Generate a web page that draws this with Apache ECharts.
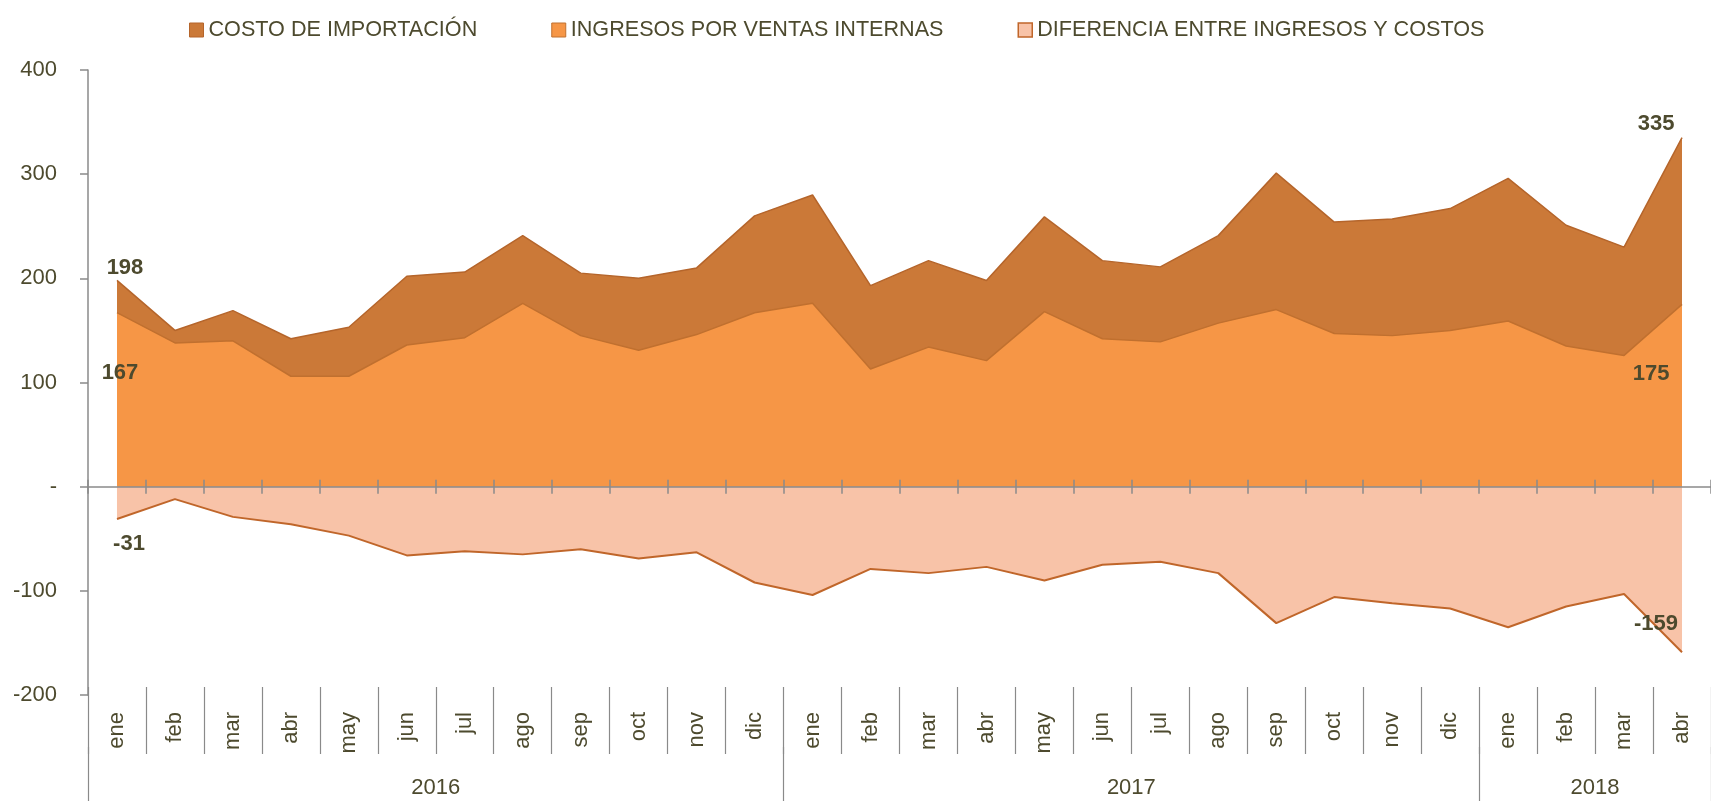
<!DOCTYPE html>
<html>
<head>
<meta charset="utf-8">
<title>Costo de importación e ingresos</title>
<script src="https://cdn.jsdelivr.net/npm/echarts/dist/echarts.min.js"></script>
<style>
  html, body { margin: 0; padding: 0; background: #fff; }
  #chart { width: 1711px; height: 801px; }
</style>
</head>
<body>
<div id="chart"></div>
<script>
const months = ['ene', 'feb', 'mar', 'abr', 'may', 'jun', 'jul', 'ago', 'sep', 'oct', 'nov', 'dic',
  'ene', 'feb', 'mar', 'abr', 'may', 'jun', 'jul', 'ago', 'sep', 'oct', 'nov', 'dic',
  'ene', 'feb', 'mar', 'abr']
const years = ['2016', '2017', '2018']
const monthsPerYear = [12, 12, 4]

const costo = [198, 150, 169, 142, 153, 202, 206, 241, 205, 200, 210, 260,
  280, 193, 217, 198, 259, 217, 211, 241, 301, 254, 257, 267,
  296, 251, 230, 335]
const ingresos = [167, 138, 140, 106, 106, 136, 143, 176, 145, 131, 146, 167,
  176, 113, 134, 121, 168, 142, 139, 157, 170, 147, 145, 150,
  159, 135, 126, 175]
const diferencia = [-31, -12, -29, -36, -47, -66, -62, -65, -60, -69, -63, -92,
  -104, -79, -83, -77, -90, -75, -72, -83, -131, -106, -112, -117,
  -135, -115, -103, -159]

const seriesNames = ['COSTO DE IMPORTACIÓN', 'INGRESOS POR VENTAS INTERNAS', 'DIFERENCIA ENTRE INGRESOS Y COSTOS']

const textColor = '#4d4a2e'
const axisColor = '#8a8a8a'
const font = "'Liberation Sans', Arial, sans-serif"

// year boundaries and label positions on a 0..n scale
const yearEdges = [0]
monthsPerYear.forEach(n => yearEdges.push(yearEdges[yearEdges.length - 1] + n))
const yearMids = years.map((y, i) => (yearEdges[i] + yearEdges[i + 1]) / 2)

// labels only on first and last point
function withEndLabels(values, first, last) {
  return values.map((v, i) => {
    if (i === 0) return { value: v, label: Object.assign({ show: true }, first) }
    if (i === values.length - 1) return { value: v, label: Object.assign({ show: true }, last) }
    return v
  })
}

const labelText = {
  color: textColor,
  fontFamily: font,
  fontSize: 22,
  fontWeight: 'bold'
}

const chart = echarts.init(document.getElementById('chart'))
chart.setOption({
  animation: false,
  textStyle: { fontFamily: font },
  legend: {
    top: 14,
    left: 184,
    itemWidth: 14,
    itemHeight: 14,
    itemGap: 74,
    icon: 'rect',
    textStyle: { color: textColor, fontSize: 21.6, fontFamily: font },
    data: [
      {
        name: seriesNames[0],
        itemStyle: { color: '#cb7938', borderColor: '#b5652b', borderWidth: 1 },
        textStyle: { padding: [0, 4, 0, 0] }
      },
      { name: seriesNames[1], itemStyle: { color: '#f69646', borderColor: '#c0702f', borderWidth: 1 } },
      { name: seriesNames[2], itemStyle: { color: '#f8c3a8', borderColor: '#c0662a', borderWidth: 1.5 } }
    ]
  },
  grid: {
    left: 88,
    right: -7,
    top: 70,
    bottom: 106
  },
  xAxis: [
    {
      // axis line at zero, ticks above
      type: 'category',
      data: months,
      position: 'bottom',
      boundaryGap: true,
      z: 10,
      axisLine: { show: true, onZero: true, onZeroAxisIndex: 0, lineStyle: { color: axisColor, width: 1.5 } },
      axisTick: { show: true, inside: true, length: 7, lineStyle: { color: axisColor, width: 1.5 } },
      axisLabel: { show: false }
    },
    {
      // ticks below the zero line
      type: 'category',
      data: months,
      position: 'bottom',
      boundaryGap: true,
      z: 10,
      axisLine: { show: false, onZero: true, onZeroAxisIndex: 0 },
      axisTick: { show: true, length: 7, lineStyle: { color: axisColor, width: 1.5 } },
      axisLabel: { show: false }
    },
    {
      // month labels under the plot
      type: 'category',
      data: months,
      position: 'bottom',
      offset: -8,
      boundaryGap: true,
      axisLine: { show: false, onZero: false },
      axisTick: { show: true, length: 67, lineStyle: { color: axisColor, width: 1.2 } },
      axisLabel: {
        interval: 0,
        rotate: 90,
        margin: 25,
        color: textColor,
        fontSize: 22,
        fontFamily: font
      }
    },
    {
      // year level
      type: 'value',
      min: 0,
      max: yearEdges[yearEdges.length - 1],
      position: 'bottom',
      offset: 52,
      axisLine: { show: false, onZero: false },
      splitLine: { show: false },
      axisTick: {
        show: true,
        customValues: yearEdges,
        length: 60,
        lineStyle: { color: axisColor, width: 1.2 }
      },
      axisLabel: {
        customValues: yearMids,
        margin: 30,
        color: textColor,
        fontSize: 22,
        fontFamily: font,
        formatter: v => years[yearMids.indexOf(v)]
      }
    }
  ],
  yAxis: {
    type: 'value',
    min: -200,
    max: 400,
    interval: 100,
    z: 10,
    axisLine: { show: true, onZero: false, lineStyle: { color: axisColor, width: 1.5 } },
    axisTick: { show: true, length: 8, lineStyle: { color: axisColor, width: 1.5 } },
    splitLine: { show: false },
    axisLabel: {
      margin: 31,
      color: textColor,
      fontSize: 22,
      fontFamily: font,
      formatter: v => (v === 0 ? '-' : String(v))
    }
  },
  series: [
    {
      name: seriesNames[0],
      type: 'line',
      xAxisIndex: 0,
      symbol: 'circle',
      symbolSize: 0,
      color: '#cb7938',
      lineStyle: { color: '#b5652b', width: 1.5 },
      areaStyle: { color: '#cb7938', opacity: 1 },
      label: labelText,
      data: withEndLabels(costo,
        { position: 'top', offset: [8, 4] },
        { position: 'top', offset: [-26, 2] })
    },
    {
      name: seriesNames[1],
      type: 'line',
      xAxisIndex: 0,
      symbol: 'circle',
      symbolSize: 0,
      color: '#f69646',
      lineStyle: { color: '#c0702f', width: 1.5 },
      areaStyle: { color: '#f69646', opacity: 1 },
      label: labelText,
      data: withEndLabels(ingresos,
        { position: 'bottom', offset: [3, 44] },
        { position: 'bottom', offset: [-31, 54] })
    },
    {
      name: seriesNames[2],
      type: 'line',
      xAxisIndex: 0,
      symbol: 'circle',
      symbolSize: 0,
      color: '#f8c3a8',
      lineStyle: { color: '#c0662a', width: 2 },
      areaStyle: { color: '#f8c3a8', opacity: 1 },
      label: labelText,
      data: withEndLabels(diferencia,
        { position: 'bottom', offset: [12, 9] },
        { position: 'top', offset: [-26, -12] })
    }
  ]
})
</script>
</body>
</html>
